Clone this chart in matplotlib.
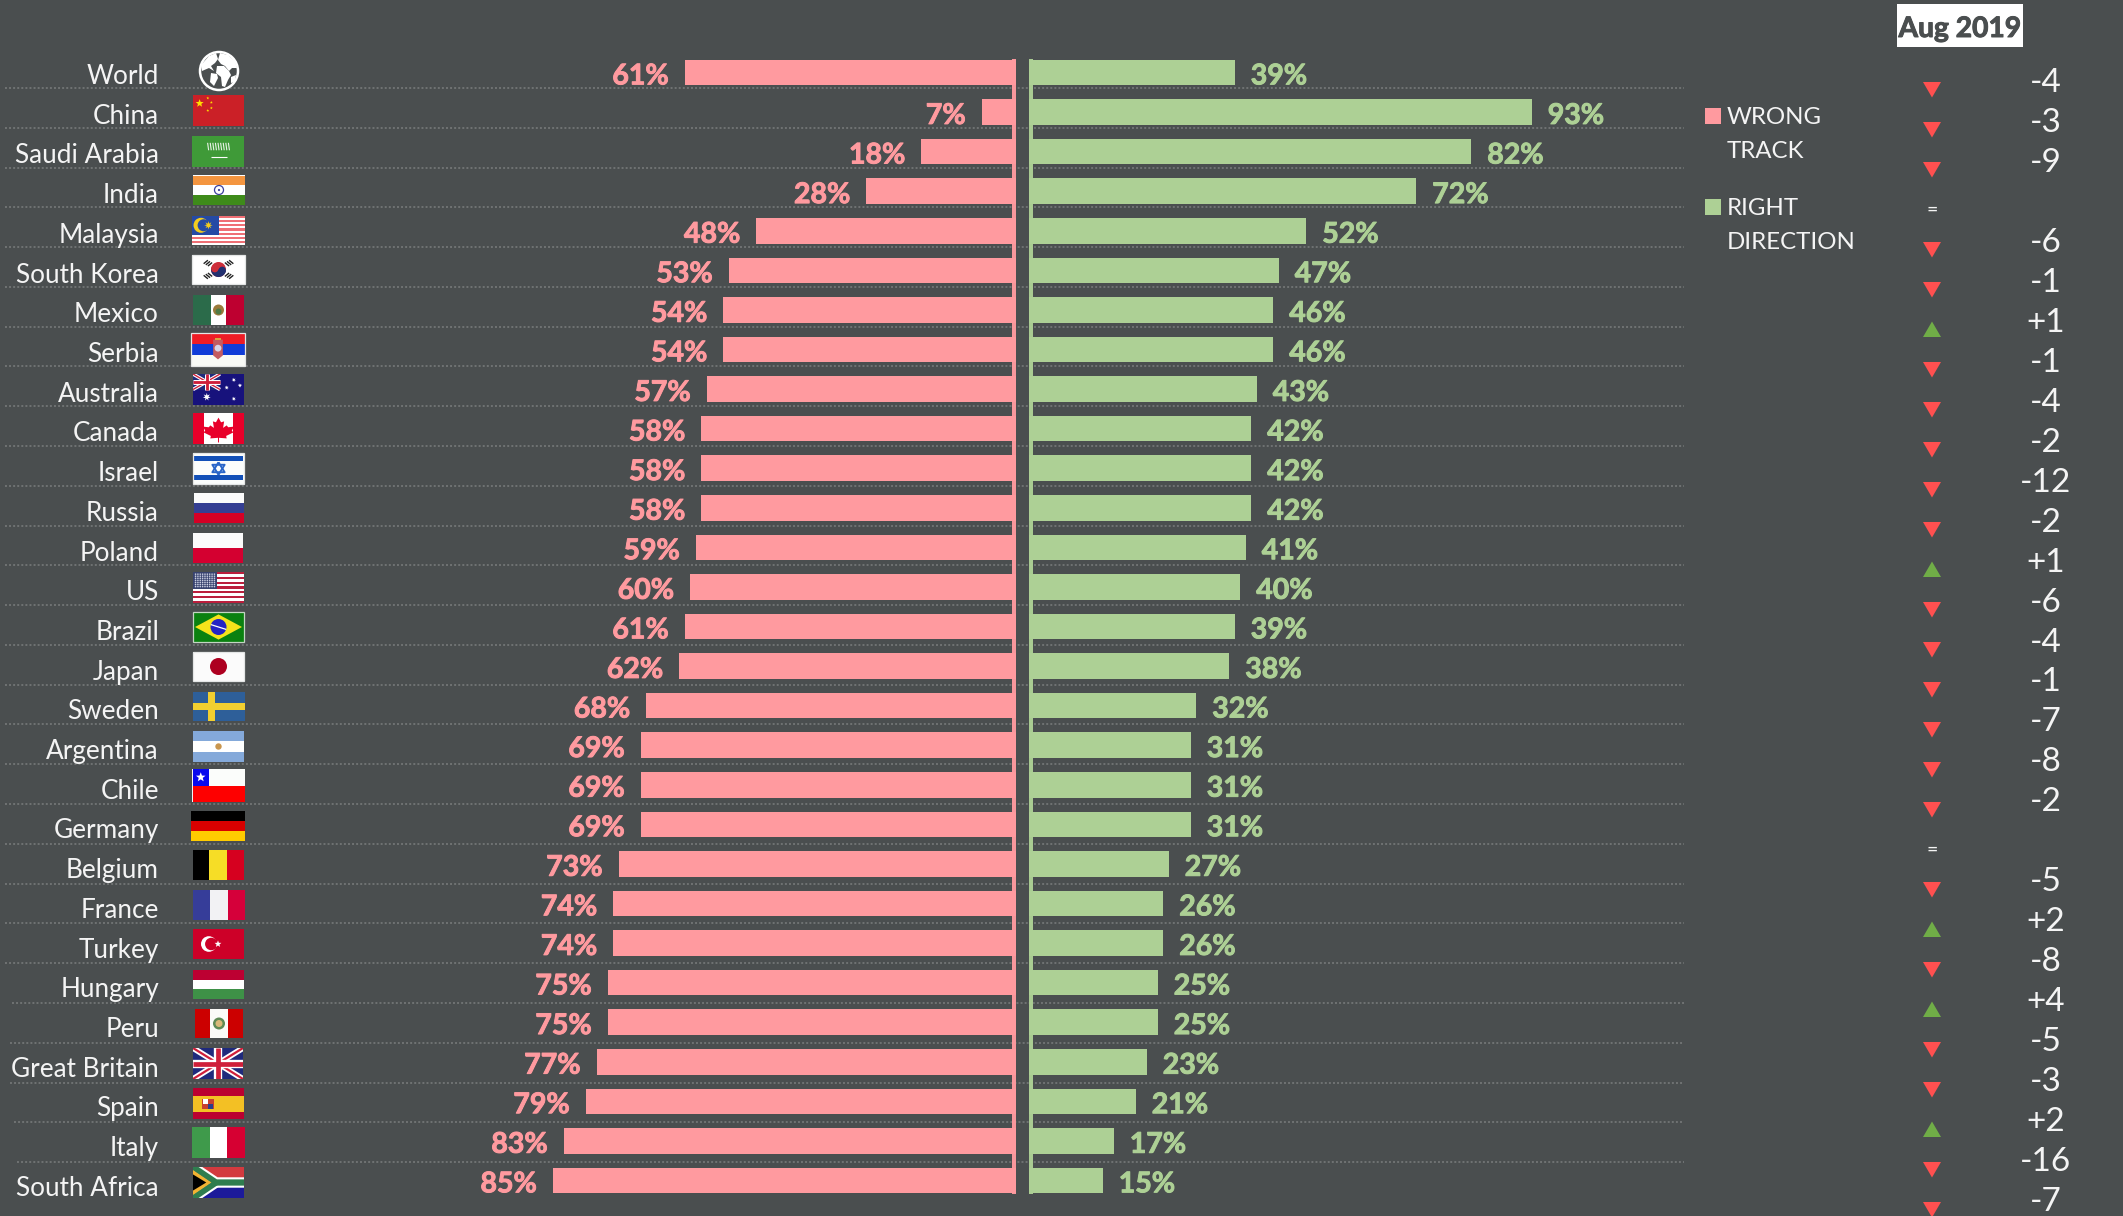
import numpy as np
import matplotlib
matplotlib.use('Agg')
import matplotlib.pyplot as plt
import matplotlib.patheffects as pe
from matplotlib.patches import Rectangle, Polygon, Circle, Wedge

plt.rcParams['font.family'] = ['Lato', 'DejaVu Sans']

countries = ['World', 'China', 'Saudi Arabia', 'India', 'Malaysia', 'South Korea', 'Mexico', 'Serbia',
             'Australia', 'Canada', 'Israel', 'Russia', 'Poland', 'US', 'Brazil', 'Japan', 'Sweden',
             'Argentina', 'Chile', 'Germany', 'Belgium', 'France', 'Turkey', 'Hungary', 'Peru',
             'Great Britain', 'Spain', 'Italy', 'South Africa']
wrong_track = [61, 7, 18, 28, 48, 53, 54, 54, 57, 58, 58, 58, 59, 60, 61, 62, 68, 69, 69, 69,
               73, 74, 74, 75, 75, 77, 79, 83, 85]
right_direction = [39, 93, 82, 72, 52, 47, 46, 46, 43, 42, 42, 42, 41, 40, 39, 38, 32, 31, 31, 31,
                   27, 26, 26, 25, 25, 23, 21, 17, 15]
change = ['-4', '-3', '-9', '=', '-6', '-1', '+1', '-1', '-4', '-2', '-12', '-2', '+1', '-6', '-4',
          '-1', '-7', '-8', '-2', '=', '-5', '+2', '-8', '+4', '-5', '-3', '+2', '-16', '-7']

BG = '#4a4e4f'
PINK = '#ff9a9f'
GREEN = '#add095'
TXT = '#f4f4f4'
W, H = 2123, 1216

# pixel <-> data: zero at x=1020.3, 5.5 px per %, rows 39.57 px apart
X0, XS = 1020.3, 5.5
Y0, YS = 72.5, 39.57

fig = plt.figure(figsize=(W / 100, H / 100), dpi=100, facecolor=BG)
ax = fig.add_axes([0, 0, 1, 1])
ax.set_xlim(-X0 / XS, (W - X0) / XS)
ax.set_ylim((H - Y0) / YS, -Y0 / YS)
ax.axis('off')

# dotted separators, they sit behind the bars
line_start = [5] * 23 + [12, 10, 10, 14, 17]
for i, x_s in enumerate(line_start):
    yp = (88 + 39.78 * i - Y0) / YS
    ax.plot([(x_s - X0) / XS, (1684 - X0) / XS], [yp, yp], color='#707373', lw=1.4,
            ls=(0, (1, 1.1)), zorder=1)

rows = np.arange(len(countries))
wt = np.array(wrong_track)
rd = np.array(right_direction)
ax.barh(rows, wt - 0.78, left=-wt, height=0.645, color=PINK, zorder=2)
ax.barh(rows, rd - 1.58, left=1.58, height=0.645, color=GREEN, zorder=2)

# the two thin strips along the centre
top, bot = (59 - Y0) / YS, (1194 - Y0) / YS
ax.add_patch(Rectangle((-1.55, top), 0.77, bot - top, fc=PINK, lw=0, alpha=0.97, zorder=1.5))
ax.add_patch(Rectangle((1.58, top), 0.73, bot - top, fc=GREEN, lw=0, alpha=0.97, zorder=1.5))

for r in rows:
    t1 = ax.text(-wt[r] - 2.9, r + 0.30, '%d%%' % wt[r], ha='right', va='baseline', color=PINK,
                 fontsize=20.5, fontweight='bold', zorder=3)
    t2 = ax.text(rd[r] + 2.9, r + 0.30, '%d%%' % rd[r], ha='left', va='baseline', color=GREEN,
                 fontsize=20.5, fontweight='bold', zorder=3)
    t1.set_path_effects([pe.withStroke(linewidth=0.7, foreground=PINK)])
    t2.set_path_effects([pe.withStroke(linewidth=0.7, foreground=GREEN)])

# second axes in plain pixels for labels, flags, legend and the change column
px = fig.add_axes([0, 0, 1, 1])
px.set_xlim(0, W)
px.set_ylim(H, 0)
px.axis('off')
px.patch.set_alpha(0)

for r, name in enumerate(countries):
    px.text(159, 84 + 39.71 * r, name, ha='right', va='baseline', color=TXT, fontsize=18.8)

for r, c in enumerate(change):
    yc = 89.5 + 40 * r
    if c == '=':
        px.text(1932, yc + 1, '=', ha='center', va='center', color=TXT, fontsize=14)
        continue
    up = c.startswith('+')
    tri = [(1923, yc + 7.5), (1941, yc + 7.5), (1932, yc - 8)] if up else \
          [(1923, yc - 7.5), (1941, yc - 7.5), (1932, yc + 8)]
    px.add_patch(Polygon(tri, fc='#70ad47' if up else '#ff5050', lw=0))
    px.text(2046, 92.5 + 39.93 * r, c, ha='center', va='baseline', color=TXT, fontsize=24)

# legend
px.add_patch(Rectangle((1705, 108), 16, 16, fc=PINK, lw=0))
px.add_patch(Rectangle((1705, 199), 16, 16, fc=GREEN, lw=0))
for txt, yb in [('WRONG', 124), ('TRACK', 158), ('RIGHT', 215), ('DIRECTION', 249)]:
    px.text(1727, yb, txt, ha='left', va='baseline', color=TXT, fontsize=17.3)

# header
px.add_patch(Rectangle((1897, 4), 126, 43, fc='white', lw=0))
t = px.text(1960, 37, 'Aug 2019', ha='center', va='baseline', color=BG, fontsize=20.3, fontweight='bold')
t.set_path_effects([pe.withStroke(linewidth=0.7, foreground=BG)])


# ---- flag drawing, all in 0..1 coordinates of the flag box ----
class Flag:
    def __init__(self, x0, x1, y0, y1):
        self.x0, self.y0, self.w, self.h = x0, y0, x1 - x0, y1 - y0
        self.clip = Rectangle((x0, y0), x1 - x0, y1 - y0, transform=px.transData)

    def P(self, u, v):
        return (self.x0 + u * self.w, self.y0 + v * self.h)

    def rect(self, u0, v0, u1, v1, c, z=5):
        x, y = self.P(u0, v0)
        px.add_patch(Rectangle((x, y), (u1 - u0) * self.w, (v1 - v0) * self.h, fc=c, lw=0, zorder=z))

    def poly(self, pts, c, z=6):
        px.add_patch(Polygon([self.P(u, v) for u, v in pts], fc=c, lw=0, zorder=z))

    def circ(self, u, v, rad, c, z=6, ec=None, lw=0):
        px.add_patch(Circle(self.P(u, v), rad, fc=c, ec=ec, lw=lw, zorder=z))

    def line(self, pts, c, lw, z=6):
        xy = np.array([self.P(u, v) for u, v in pts])
        ln, = px.plot(xy[:, 0], xy[:, 1], color=c, lw=lw, zorder=z, solid_capstyle='butt')
        ln.set_clip_path(self.clip)

    def star(self, u, v, rad, c, n=5, z=7):
        cx, cy = self.P(u, v)
        pts = []
        for k in range(2 * n):
            a = -np.pi / 2 + k * np.pi / n
            rr = rad if k % 2 == 0 else rad * 0.42
            pts.append((cx + rr * np.cos(a), cy + rr * np.sin(a)))
        px.add_patch(Polygon(pts, fc=c, lw=0, zorder=z))

    def border(self, c='#e4e6e6'):
        px.add_patch(Rectangle((self.x0, self.y0), self.w, self.h, fc='none', ec=c, lw=0.9, zorder=8))

    def hstripes(self, cols):
        n = len(cols)
        for k, c in enumerate(cols):
            self.rect(0, k / n, 1, (k + 1) / n, c)

    def vstripes(self, cols, cuts=None):
        cuts = cuts or [k / len(cols) for k in range(len(cols) + 1)]
        for k, c in enumerate(cols):
            self.rect(cuts[k], 0, cuts[k + 1], 1, c)


def union_jack(f, u0, v0, u1, v1, lw_scale=1.0):
    f.rect(u0, v0, u1, v1, '#1f2a7c', z=6)
    a, b = (u0, v0), (u1, v1)
    c, d = (u0, v1), (u1, v0)
    for p, q in [(a, b), (c, d)]:
        f.line([p, q], 'white', 4.2 * lw_scale, z=7)
        f.line([p, q], '#cf1f3a', 1.6 * lw_scale, z=8)
    um, vm = (u0 + u1) / 2, (v0 + v1) / 2
    f.line([(u0, vm), (u1, vm)], 'white', 6 * lw_scale, z=9)
    f.line([(um, v0), (um, v1)], 'white', 6 * lw_scale, z=9)
    f.line([(u0, vm), (u1, vm)], '#cf1f3a', 3.4 * lw_scale, z=10)
    f.line([(um, v0), (um, v1)], '#cf1f3a', 3.4 * lw_scale, z=10)


def crescent(f, u, v, rad, c, bgc, shift):
    f.circ(u, v, rad, c, z=6)
    cx = u + shift / f.w
    f.circ(cx, v, rad * 0.8, bgc, z=7)


boxes = {
    'China': (193, 244, 95, 126), 'Saudi Arabia': (192, 244, 136, 167), 'India': (193, 245, 175, 205),
    'Malaysia': (192, 245, 216, 245), 'South Korea': (192, 245, 255, 284), 'Mexico': (193, 244, 295, 325),
    'Serbia': (191, 245, 333, 366), 'Australia': (193, 244, 374, 405), 'Canada': (193, 244, 413, 444),
    'Israel': (193, 244, 453, 484), 'Russia': (194, 244, 493, 523), 'Poland': (193, 243, 533, 563),
    'US': (193, 244, 572, 603), 'Brazil': (193, 244, 612, 642), 'Japan': (193, 244, 652, 681),
    'Sweden': (193, 245, 692, 721), 'Argentina': (193, 244, 731, 762), 'Chile': (192, 245, 769, 802),
    'Germany': (191, 245, 811, 841), 'Belgium': (193, 244, 850, 880), 'France': (193, 245, 890, 920),
    'Turkey': (193, 244, 929, 959), 'Hungary': (193, 244, 970, 999), 'Peru': (195, 243, 1009, 1038),
    'Great Britain': (193, 243, 1048, 1079), 'Spain': (193, 244, 1088, 1119), 'Italy': (192, 245, 1127, 1158),
    'South Africa': (193, 244, 1167, 1198),
}
fl = {k: Flag(*v) for k, v in boxes.items()}

f = fl['China']
f.rect(0, 0, 1, 1, '#cb2027')
f.star(0.13, 0.27, 4.2, '#ffdf00')
for u, v in [(0.29, 0.1), (0.36, 0.24), (0.36, 0.42), (0.29, 0.5)]:
    f.star(u, v, 1.5, '#ffdf00')

f = fl['Saudi Arabia']
f.rect(0, 0, 1, 1, '#3f9a38')
for u in np.arange(0.3, 0.72, 0.05):
    f.line([(u, 0.22), (u + 0.02, 0.46)], '#e8f3e6', 0.8, z=7)
f.line([(0.37, 0.69), (0.67, 0.69)], 'white', 0.8, z=7)

f = fl['India']
f.hstripes(['#f4953f', 'white', '#3e8b1a'])
f.rect(0, 0, 1, 0.03, 'white')
f.circ(0.5, 0.5, 4.5, 'white', ec='#3b3f9d', lw=0.9)
f.circ(0.5, 0.5, 1.1, '#3b3f9d', z=7)

f = fl['Malaysia']
f.hstripes(['#ef6f75', 'white'] * 7)
f.rect(0, 0, 0.5, 0.66, '#254aa5')
crescent(f, 0.17, 0.32, 7.5, '#f2cc1f', '#254aa5', 2.6)
f.star(0.31, 0.32, 4.2, '#f2cc1f', n=8, z=8)

f = fl['South Korea']
f.rect(0, 0, 1, 1, 'white')
f.circ(0.5, 0.5, 7.5, '#cd2e3a')
x, y = f.P(0.5, 0.5)
px.add_patch(Wedge((x, y), 7.5, 10, 190, fc='#21306f', lw=0, zorder=7))
f.circ(0.43, 0.47, 3.7, '#cd2e3a', z=8)
f.circ(0.57, 0.53, 3.7, '#21306f', z=8)
for (u, v), ang in [((0.3, 0.28), 1), ((0.7, 0.28), -1), ((0.3, 0.72), -1), ((0.7, 0.72), 1)]:
    for d in (-0.04, 0, 0.04):
        f.line([(u - 0.04 + d * ang, v + ang * 0.06 + d), (u + 0.04 + d * ang, v - ang * 0.06 + d)], '#222222', 1.0, z=7)
f.border()

f = fl['Mexico']
f.vstripes(['#2b6b4a', 'white', '#be0030'], [0, 0.35, 0.65, 1])
f.circ(0.5, 0.5, 5.5, '#9b7b3b')
f.circ(0.5, 0.55, 3, '#4f7a45', z=7)

f = fl['Serbia']
f.hstripes(['#ee1c25', '#0f3cd8', '#f8faf6'])
f.poly([(0.41, 0.2), (0.59, 0.2), (0.59, 0.68), (0.5, 0.8), (0.41, 0.68)], '#c25b62')
f.circ(0.5, 0.46, 3.4, '#d8d3e6', z=7)
f.rect(0.44, 0.14, 0.56, 0.22, '#d9a441', z=7)
f.border()

f = fl['Australia']
f.rect(0, 0, 1, 1, '#17127c')
union_jack(f, 0, 0, 0.53, 0.5, lw_scale=0.6)
f.star(0.27, 0.74, 4, 'white', n=7)
for u, v in [(0.8, 0.19), (0.66, 0.44), (0.92, 0.37), (0.8, 0.8)]:
    f.star(u, v, 2.2, 'white', n=7)

f = fl['Canada']
f.vstripes(['#e8002a', 'white', '#e8002a'], [0, 0.22, 0.78, 1])
leaf = [(0.5, 0.15), (0.55, 0.3), (0.61, 0.27), (0.59, 0.48), (0.66, 0.4), (0.69, 0.46), (0.8, 0.44),
        (0.76, 0.58), (0.8, 0.62), (0.65, 0.74), (0.66, 0.82), (0.51, 0.8), (0.51, 0.95), (0.49, 0.95),
        (0.49, 0.8), (0.34, 0.82), (0.35, 0.74), (0.2, 0.62), (0.24, 0.58), (0.2, 0.44), (0.31, 0.46),
        (0.34, 0.4), (0.41, 0.48), (0.39, 0.27), (0.45, 0.3)]
f.poly(leaf, '#e8002a')

f = fl['Israel']
f.rect(0, 0, 1, 1, '#fbfdfc')
f.rect(0.02, 0.09, 0.98, 0.25, '#1250b8')
f.rect(0.02, 0.71, 0.98, 0.87, '#1250b8')
for pts in ([(0.5, 0.3), (0.62, 0.62), (0.38, 0.62)], [(0.5, 0.7), (0.62, 0.38), (0.38, 0.38)]):
    f.line(pts + [pts[0]], '#2a66c9', 1.4, z=7)
f.border()

f = fl['Russia']
f.hstripes(['#fbfbfb', '#353f93', '#d50025'])

f = fl['Poland']
f.hstripes(['#fbfbfb', '#d40030'])

f = fl['US']
f.hstripes(['#bb1e3c', 'white'] * 6 + ['#bb1e3c'])
f.rect(0, 0, 0.47, 0.54, '#38436f')
for u in np.linspace(0.05, 0.42, 9):
    for v in np.linspace(0.07, 0.47, 7):
        f.circ(u, v, 0.8, '#c8cde0', z=7)

f = fl['Brazil']
f.rect(0, 0, 1, 1, '#0a8110')
f.poly([(0.5, 0.08), (0.96, 0.5), (0.5, 0.92), (0.04, 0.5)], '#f5e31b')
f.circ(0.5, 0.5, 8, '#2424c4', z=7)
f.line([(0.35, 0.42), (0.65, 0.58)], 'white', 0.9, z=8)
f.border('#c3d6c3')

f = fl['Japan']
f.rect(0, 0, 1, 1, '#fbfbfb')
f.circ(0.5, 0.5, 8.5, '#ad0020')
f.border()

f = fl['Sweden']
f.rect(0, 0, 1, 1, '#2e5f99')
f.rect(0, 0.38, 1, 0.62, '#f2cf30')
f.rect(0.29, 0, 0.42, 1, '#f2cf30')

f = fl['Argentina']
f.hstripes(['#84a9da', 'white', '#84a9da'])
f.circ(0.5, 0.5, 3.2, '#c9964e')

f = fl['Chile']
f.hstripes(['#fbfdfb', '#fe0000'])
f.rect(0, 0, 0.33, 0.5, '#0808ee')
f.star(0.165, 0.25, 5, 'white')
f.rect(0, 0, 0.012, 1, '#f4f4f4', z=7)

f = fl['Germany']
f.hstripes(['#000000', '#d90000', '#ffcc00'])

f = fl['Belgium']
f.vstripes(['#000000', '#f6dd26', '#d6001f'], [0, 0.31, 0.67, 1])

f = fl['France']
f.vstripes(['#363d99', '#f2f2f4', '#d5003a'], [0, 0.33, 0.67, 1])

f = fl['Turkey']
f.rect(0, 0, 1, 1, '#cd0028')
crescent(f, 0.31, 0.5, 7.8, 'white', '#cd0028', 2.5)
f.star(0.49, 0.5, 3.6, 'white')

f = fl['Hungary']
f.hstripes(['#bd0032', 'white', '#3e9147'])

f = fl['Peru']
f.vstripes(['#cc0000', '#fbfbf8', '#cc0000'], [0, 0.31, 0.69, 1])
f.circ(0.5, 0.5, 6, '#5f8a55')
f.circ(0.5, 0.5, 3.5, '#d9b878', z=7)

f = fl['Great Britain']
union_jack(f, 0, 0, 1, 1)

f = fl['Spain']
f.rect(0, 0, 1, 1, '#bb0030')
f.rect(0, 0.25, 1, 0.77, '#f3c024')
f.rect(0.18, 0.36, 0.42, 0.68, '#c9402f', z=6)
f.rect(0.2, 0.36, 0.3, 0.52, 'white', z=7)
f.rect(0.3, 0.52, 0.4, 0.68, '#2a3f8c', z=7)

f = fl['Italy']
f.vstripes(['#3f9a4b', 'white', '#d60032'], [0, 0.34, 0.66, 1])

f = fl['South Africa']
f.rect(0, 0, 1, 0.5, '#d33a3f')
f.rect(0, 0.5, 1, 1, '#1c1a9a')
y_path = [[(0, 0), (0.45, 0.5), (1, 0.5)], [(0, 1), (0.45, 0.5)]]
for pts in y_path:
    f.line(pts, 'white', 7.5, z=6)
for pts in y_path:
    f.line(pts, '#2f7d4f', 4.5, z=7)
f.poly([(0, 0.1), (0.36, 0.5), (0, 0.9)], '#f2b233', z=8)
f.poly([(0, 0.24), (0.26, 0.5), (0, 0.76)], '#000000', z=9)

# globe, white land on the dark background
gx, gy, gr = 219, 71, 20
px.add_patch(Circle((gx, gy), gr - 1, fc=BG, ec='white', lw=1.8, zorder=5))
land = [
    [(-18, -6), (-10, -15), (-3, -18), (-1, -12), (-4, -8), (-8, -5), (-5, 0), (-10, -3), (-17, 0)],
    [(-8, 2), (-2, 3), (-1, 7), (-5, 15), (-9, 11)],
    [(1, -18), (9, -16), (16, -10), (18, -3), (13, -3), (10, 0), (6, -5), (2, -7), (-1, -11)],
    [(-2, -5), (5, -5), (10, 0), (12, 4), (9, 9), (6, 16), (3, 15), (2, 6), (-3, 2)],
    [(12, 6), (17, 4), (16, 11), (12, 12)],
]
for blob in land:
    px.add_patch(Polygon([(gx + a, gy + b) for a, b in blob], fc='white', lw=0, zorder=6))

fig.savefig('out.png', dpi=100, facecolor=BG)
